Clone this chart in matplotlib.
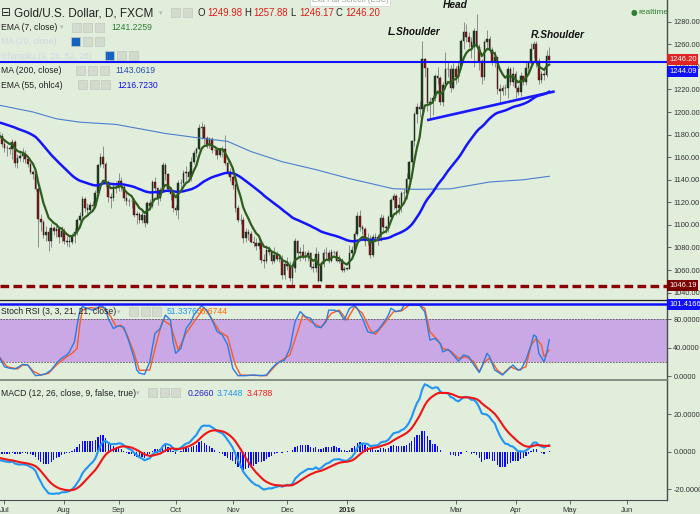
import numpy as np
import matplotlib
matplotlib.use('Agg')
import matplotlib.pyplot as plt
from matplotlib.patches import Rectangle

plt.rcParams['font.family'] = ['Liberation Sans', 'DejaVu Sans']

# ---- daily candles (bar index 0 = 1 Jul 2015), open = previous close ----
first_open = 1182
jun_c = [1179, 1172]
jun_h = [1187, 1181]
jun_l = [1176, 1169]
jul_c = [1168, 1168, 1167, 1173, 1155, 1159, 1161, 1163, 1158, 1154, 1147, 1145, 1132, 1105, 1103, 1091, 1094, 1086, 1097, 1095, 1096, 1089, 1095]
jul_h = [1175, 1171, 1170, 1176, 1175, 1163, 1166, 1168, 1166, 1160, 1156, 1149, 1147, 1134, 1110, 1104, 1099, 1097, 1102, 1099, 1099, 1098, 1099]
jul_l = [1165, 1161, 1163, 1158, 1151, 1150, 1157, 1156, 1155, 1151, 1145, 1141, 1130, 1080, 1095, 1088, 1086, 1077, 1080, 1091, 1089, 1084, 1085]
aug_c = [1086, 1085, 1085, 1090, 1094, 1104, 1108, 1123, 1115, 1113, 1118, 1117, 1128, 1153, 1160, 1154, 1138, 1125, 1124, 1134, 1133]
aug_h = [1097, 1090, 1090, 1093, 1097, 1106, 1111, 1126, 1125, 1119, 1120, 1121, 1131, 1154, 1164, 1170, 1156, 1140, 1128, 1138, 1139]
aug_l = [1083, 1081, 1080, 1083, 1084, 1091, 1101, 1105, 1111, 1110, 1111, 1114, 1115, 1126, 1151, 1150, 1134, 1120, 1115, 1121, 1128]
sep_c = [1139, 1134, 1124, 1121, 1121, 1121, 1109, 1110, 1104, 1109, 1102, 1119, 1117, 1138, 1133, 1124, 1131, 1153, 1145, 1132, 1127, 1115]
sep_h = [1146, 1142, 1136, 1129, 1124, 1124, 1124, 1112, 1111, 1111, 1109, 1121, 1123, 1140, 1142, 1134, 1134, 1156, 1155, 1146, 1134, 1129]
sep_l = [1130, 1130, 1121, 1118, 1117, 1115, 1107, 1101, 1102, 1102, 1098, 1101, 1114, 1115, 1129, 1118, 1121, 1130, 1140, 1129, 1122, 1111]
oct_c = [1113, 1137, 1137, 1146, 1147, 1142, 1156, 1164, 1167, 1186, 1187, 1177, 1171, 1176, 1166, 1166, 1162, 1166, 1167, 1155, 1147, 1142]
oct_h = [1118, 1140, 1141, 1149, 1152, 1149, 1160, 1166, 1169, 1189, 1191, 1189, 1179, 1178, 1178, 1170, 1168, 1168, 1170, 1180, 1158, 1150]
oct_l = [1109, 1105, 1131, 1134, 1140, 1139, 1139, 1154, 1160, 1166, 1176, 1172, 1168, 1168, 1164, 1162, 1158, 1160, 1160, 1153, 1144, 1139]
nov_c = [1135, 1115, 1104, 1104, 1088, 1094, 1092, 1085, 1084, 1081, 1084, 1069, 1068, 1078, 1076, 1068, 1073, 1070, 1070, 1056, 1065]
nov_h = [1143, 1137, 1118, 1110, 1107, 1097, 1096, 1095, 1090, 1088, 1090, 1087, 1074, 1082, 1081, 1078, 1080, 1077, 1073, 1073, 1068]
nov_l = [1132, 1111, 1103, 1101, 1084, 1085, 1087, 1084, 1080, 1078, 1079, 1066, 1062, 1066, 1073, 1065, 1066, 1068, 1067, 1052, 1052]
dec_c = [1064, 1053, 1062, 1086, 1075, 1076, 1072, 1072, 1075, 1063, 1062, 1074, 1050, 1065, 1075, 1075, 1068, 1076, 1076, 1068, 1069, 1060, 1061]
dec_h = [1072, 1068, 1064, 1088, 1087, 1080, 1083, 1077, 1078, 1076, 1066, 1080, 1077, 1068, 1079, 1080, 1078, 1079, 1077, 1078, 1073, 1071, 1064]
dec_l = [1060, 1050, 1046.19, 1058, 1072, 1068, 1070, 1068, 1068, 1061, 1058, 1058, 1049, 1049, 1063, 1071, 1066, 1067, 1074, 1067, 1066, 1058, 1058]
jan_c = [1061, 1075, 1078, 1092, 1108, 1098, 1096, 1086, 1086, 1073, 1089, 1088, 1089, 1106, 1098, 1097, 1107, 1122, 1126, 1115, 1118]
jan_h = [1062, 1082, 1081, 1095, 1111, 1113, 1100, 1098, 1093, 1091, 1092, 1093, 1092, 1110, 1109, 1100, 1109, 1124, 1128, 1127, 1125]
jan_l = [1060, 1061, 1071, 1075, 1090, 1095, 1092, 1081, 1082, 1071, 1072, 1085, 1082, 1086, 1094, 1093, 1094, 1104, 1114, 1109, 1110]
feb_c = [1128, 1128, 1141, 1156, 1174, 1198, 1204, 1203, 1247, 1239, 1208, 1209, 1212, 1232, 1230, 1209, 1224, 1238, 1238, 1221, 1238]
feb_h = [1130, 1132, 1146, 1157, 1175, 1200, 1208, 1210, 1263, 1248, 1239, 1213, 1215, 1234, 1240, 1232, 1227, 1253, 1245, 1242, 1243]
feb_l = [1111, 1121, 1123, 1139, 1145, 1170, 1190, 1196, 1200, 1231, 1201, 1195, 1197, 1210, 1225, 1206, 1205, 1220, 1231, 1218, 1220]
mar_c = [1231, 1241, 1263, 1271, 1266, 1262, 1258, 1272, 1258, 1245, 1231, 1262, 1265, 1255, 1245, 1249, 1220, 1219, 1221, 1221, 1238, 1227, 1234]
mar_h = [1241, 1245, 1265, 1280, 1278, 1271, 1266, 1274, 1287, 1260, 1247, 1264, 1273, 1267, 1258, 1254, 1249, 1225, 1224, 1225, 1241, 1240, 1240]
mar_l = [1225, 1227, 1238, 1256, 1262, 1257, 1248, 1240, 1256, 1237, 1225, 1228, 1257, 1252, 1242, 1240, 1216, 1208, 1215, 1215, 1212, 1224, 1223]
apr_c = [1221, 1218, 1232, 1227, 1239, 1243, 1256, 1260, 1245, 1228, 1234, 1233, 1249.98, 1246.20]
apr_h = [1236, 1224, 1235, 1232, 1245, 1245, 1261, 1263, 1263, 1248, 1236, 1239, 1255, 1257.88]
apr_l = [1212, 1215, 1214, 1224, 1224, 1234, 1241, 1248, 1240, 1225, 1226, 1228, 1231, 1246.17]

# 200-day MA (bar index, value)
ma200_x = [-2, 11, 20, 29, 43, 62, 75, 86, 95, 107, 120, 133, 150, 159, 172, 187, 200, 210]
ma200_y = [1206, 1200, 1194, 1191, 1189, 1181, 1177, 1174, 1165, 1156, 1149, 1141, 1132, 1131.5, 1132, 1138, 1140, 1143.06]

# neckline drawn on the chart
neck_x = [163.4, 211.6]
neck_y = [1193, 1218]

# Stoch RSI %K / %D
k_x = [-2, 0, 2, 4, 6, 7, 9, 11, 12, 14, 16, 18, 20, 22, 24, 25, 27, 28, 29, 30, 32, 34, 37, 39, 40, 42, 44, 46, 48, 50,
       51, 52, 54, 56, 58, 60, 62, 64, 65, 66, 68, 70, 72, 73, 75, 76, 78, 80, 82, 84, 86, 88, 90, 93, 96, 99, 101, 103,
       105, 106, 108, 110, 112, 114, 116, 118, 120, 122, 124, 125, 127, 129, 131, 133, 135, 136, 138, 140, 142, 144, 146,
       148, 149, 151, 153, 154, 158, 160, 162, 163, 164, 166, 168, 169, 171, 173, 175, 177, 179, 181, 183, 184, 186, 187,
       189, 192, 194, 196, 198, 199, 201, 203, 204, 205, 206, 208, 209, 210]
k_y = [27, 13, 11, 10, 14, 16.5, 15.5, 5, 0.5, 1.4, 3.3, 8.5, 18, 25, 29.7, 34, 48.5, 72, 91, 98, 95.6, 93, 99, 95.6, 81,
       67, 71, 68.7, 48.5, 25, 8.5, 4, 2.4, 20, 60, 67, 86, 79, 48.5, 32, 39, 67, 77, 86, 95.6, 99, 93, 79, 62.6, 58, 43.8,
       10.8, 0.5, 0.5, 1.4, 0.5, 1.4, 10.8, 17.9, 20, 22.6, 39, 76.7, 90.9, 83.8, 81.5, 69.7, 68.3, 76.7, 93, 93, 90.9, 79,
       95.6, 99.3, 95.6, 81.5, 62.6, 60.3, 65, 74.4, 86, 95.6, 90.9, 93, 100, 100, 100, 90.9, 72, 50.8, 53, 46, 34, 37.7,
       29.7, 21, 29.7, 27.3, 15.5, 5, 13, 32, 27.3, 8.5, 1.4, 8.5, 15.5, 8.5, 8.5, 22.6, 43.8, 58, 55.6, 32, 20, 32, 51.34]
d_x = [-2, 1, 5, 7, 9, 11, 14, 17, 20, 24, 26, 28, 29, 30, 33, 36, 38, 41, 43, 45, 47, 50, 52, 56, 59, 61, 64, 67, 70,
       74, 77, 79, 83, 86, 89, 91, 101, 104, 106, 110, 113, 115, 118, 122, 126, 129, 132, 135, 138, 141, 143, 146, 150,
       153, 156, 160, 162, 164, 167, 169, 172, 175, 178, 181, 183, 185, 187, 190, 192, 195, 198, 201, 203, 205, 207, 208, 210]
d_y = [27, 13, 10, 15.5, 15.5, 7, 1.4, 3.8, 15.5, 27.3, 32, 39, 72, 93, 96.5, 95.6, 97, 83.8, 69.7, 72, 60.3, 32, 8, 8.5,
       53, 79, 72, 36.7, 60.3, 81.5, 96.5, 86, 62.6, 55.6, 15.5, 1.4, 0.5, 13, 20, 29.7, 62.6, 86, 76.7, 68.7, 88.5, 93,
       79, 98, 88.5, 65, 58.9, 72, 90.9, 91.8, 100, 100, 95.6, 62.6, 50.8, 39, 35.3, 25, 27.3, 20, 6, 20, 25, 8.5, 2.4, 13,
       8.5, 13, 43.8, 53, 43.8, 27.3, 36.67]

# starting states of the EMAs at the left edge
ema55_start = 1191
ema12_start, ema26_start, signal_start = 1178, 1183, -3.0

month_pos = [0, 23, 44, 66, 88, 109, 132, 174, 197, 218, 240]
month_lab = ['Jul', 'Aug', 'Sep', 'Oct', 'Nov', 'Dec', '2016', 'Mar', 'Apr', 'May', 'Jun']

legend_vals = ['1241.2259', '1143.0619', '1216.7230']
stoch_vals = ['51.3376', '36.6744']
macd_vals = ['0.2660', '3.7448', '3.4788']

closes = np.array(jun_c + jul_c + aug_c + sep_c + oct_c + nov_c + dec_c + jan_c + feb_c + mar_c + apr_c, float)
highs = np.array(jun_h + jul_h + aug_h + sep_h + oct_h + nov_h + dec_h + jan_h + feb_h + mar_h + apr_h, float)
lows = np.array(jun_l + jul_l + aug_l + sep_l + oct_l + nov_l + dec_l + jan_l + feb_l + mar_l + apr_l, float)
opens = np.concatenate([[first_open], closes[:-1]])
highs = np.maximum(highs, np.maximum(opens, closes))
lows = np.minimum(lows, np.minimum(opens, closes))
idx = np.arange(len(closes)) - 2


def ema(vals, n, start):
    a = 2.0 / (n + 1)
    out = []
    e = start
    for v in vals:
        e = e + a * (v - e)
        out.append(e)
    return np.array(out)


ema7 = ema(closes, 7, closes[0])
ema55 = ema((opens + highs + lows + closes) / 4, 55, ema55_start)
macd = ema(closes, 12, ema12_start) - ema(closes, 26, ema26_start)
signal = ema(macd, 9, signal_start)
hist = macd - signal

BG = '#e1eedb'
W, H = 700, 514


def fx(x):
    return x / W


def fy(y):
    return 1 - y / H


fig = plt.figure(figsize=(7, 5.14), dpi=100)
fig.patch.set_facecolor(BG)
ax1 = fig.add_axes([0, fy(300), fx(667), 300 / H])
ax2 = fig.add_axes([0, fy(380), fx(667), 80 / H])
ax3 = fig.add_axes([0, fy(500), fx(667), 120 / H])

for ax in (ax1, ax2, ax3):
    ax.set_facecolor(BG)
    ax.set_xlim(-1.73, 255.4)
    ax.spines['left'].set_visible(False)
    ax.spines['right'].set_color('#4d4d4d')
    ax.spines['right'].set_linewidth(1.0)
    ax.yaxis.tick_right()
    ax.tick_params(axis='y', direction='out', length=3, width=0.6, colors='#4d4d4d',
                   labelsize=5.3, labelcolor='#333333', pad=1.5)
ax1.spines['top'].set_visible(False)
ax1.spines['bottom'].set_visible(False)
ax2.spines['top'].set_color('#222222')
ax2.spines['top'].set_linewidth(0.9)
ax2.spines['bottom'].set_visible(False)
ax3.spines['top'].set_color('#7d857a')
ax3.spines['top'].set_linewidth(1.3)
ax3.spines['bottom'].set_color('#4d4d4d')
ax1.set_xticks([])
ax2.set_xticks([])

# ---- price panel ----
ax1.set_ylim(1033.5, 1299.2)
ax1.set_yticks(np.arange(1040, 1281, 20))
ax1.set_yticklabels(['%.2f' % v for v in np.arange(1040, 1281, 20)])

ax1.vlines(idx, lows, highs, color='#8c8c8c', lw=0.7, zorder=2)
up = closes >= opens
body = np.maximum(np.abs(closes - opens), 0.4)
ax1.bar(idx, body, bottom=np.minimum(opens, closes), width=0.62,
        color=np.where(up, '#1e421e', '#8b1414'), edgecolor='#1a1a1a', lw=0.3, zorder=3)

ax1.plot(ma200_x, ma200_y, color='#4a7fd0', lw=0.8, zorder=4)
ax1.plot(idx, ema55, color='#1414ff', lw=1.8, zorder=4)
ax1.plot(idx, ema7, color='#2e5e1e', lw=1.6, zorder=5)
ax1.plot(neck_x, neck_y, color='#1a1aff', lw=1.9, zorder=5)
ax1.axhline(1244.09, color='#1010ff', lw=1.5, zorder=6)
ax1.axhline(1046.19, color='#8b0000', lw=2.4, dashes=(2.6, 1.3), zorder=6)

box = dict(boxstyle='square,pad=0.25', ec='none')
ax1.annotate('1246.20', xy=(1, 1246.20), xycoords=('axes fraction', 'data'), xytext=(1.5, 0),
             textcoords='offset points', va='center', ha='left', fontsize=5.5, color='white',
             bbox=dict(box, fc='#e02424'), annotation_clip=False, zorder=10)
ax1.annotate('1244.09', xy=(1, 1244.09), xycoords=('axes fraction', 'data'), xytext=(1.5, -6.5),
             textcoords='offset points', va='center', ha='left', fontsize=5.5, color='white',
             bbox=dict(box, fc='#1010ff'), annotation_clip=False, zorder=10)
ax1.annotate('1046.19', xy=(1, 1046.19), xycoords=('axes fraction', 'data'), xytext=(1.5, 0),
             textcoords='offset points', va='center', ha='left', fontsize=5.5, color='white',
             bbox=dict(box, fc='#7a0000'), annotation_clip=False, zorder=10)

# ---- stoch RSI panel ----
ax2.set_ylim(-5.6, 107.3)
ax2.set_yticks([0, 40, 80])
ax2.set_yticklabels(['0.0000', '40.0000', '80.0000'])
ax2.axhspan(20, 80, color='#c9a8e5', lw=0, zorder=1)
ax2.axhline(80, color='#555555', lw=0.6, dashes=(2, 1.5), zorder=2)
ax2.axhline(20, color='#555555', lw=0.6, dashes=(2, 1.5), zorder=2)
ax2.plot(d_x, d_y, color='#ff5a1f', lw=1.0, zorder=3)
ax2.plot(k_x, k_y, color='#2a7de1', lw=1.0, zorder=4)
ax2.axhline(101.4166, color='#1010ff', lw=1.8, zorder=5)
ax2.annotate('101.4166', xy=(1, 101.4166), xycoords=('axes fraction', 'data'), xytext=(1.5, 0),
             textcoords='offset points', va='center', ha='left', fontsize=5.5, color='white',
             bbox=dict(box, fc='#1010ff'), annotation_clip=False, zorder=10)

# ---- MACD panel ----
ax3.set_ylim(-25.7, 38.2)
ax3.set_yticks([-20, 0, 20])
ax3.set_yticklabels(['-20.0000', '0.0000', '20.0000'])
ax3.bar(idx, hist, width=0.5, color='#0a0aff', zorder=2)
ax3.plot(idx, macd, color='#2196f3', lw=1.5, zorder=3)
ax3.plot(idx, signal, color='#f01414', lw=1.5, zorder=4)
ax3.set_xticks(month_pos)
ax3.set_xticklabels(month_lab)
ax3.tick_params(axis='x', direction='out', length=3, width=0.6, colors='#4d4d4d',
                labelsize=5.5, labelcolor='#333333', pad=2)
for t in ax3.get_xticklabels():
    if t.get_text() == '2016':
        t.set_fontweight('bold')


# ---- header / legends ----
def icon(x, y, color='#d3dbcf', w=9, h=9):
    fig.add_artist(Rectangle((fx(x), fy(y + h)), w / W, h / H, transform=fig.transFigure,
                             fc=color, ec='#c2cabe', lw=0.5))


def label(x, y, s, color='#222222', size=6.2, **kw):
    fig.text(fx(x), fy(y), s, color=color, fontsize=size, va='center', ha='left', **kw)


fig.text(fx(350), fy(0.8), 'Exit Full Screen (ESC)', fontsize=5.5, color='#9a9a9a', ha='center', va='center',
         bbox=dict(boxstyle='square,pad=0.2', fc='white', ec='#cfcfcf', lw=0.5))
label(1, 13, '⊟', size=8.5, family=['DejaVu Sans'])
label(14, 13, 'Gold/U.S. Dollar, D, FXCM', size=8.5)
label(159, 13, '▾', color='#b5b5b5', size=5, family=['DejaVu Sans'])
icon(171, 8)
icon(183, 8)
x0 = 198
for key, val in [('O', '1249.98'), ('H', '1257.88'), ('L', '1246.17'), ('C', '1246.20')]:
    label(x0, 13, key, size=6.9)
    label(x0 + 9, 13, val, color='#e01b1b', size=6.9)
    x0 += 46

label(1, 27, 'EMA (7, close)', size=6.2)
label(60, 27, '▾', color='#b5b5b5', size=5, family=['DejaVu Sans'])
for xi in (72, 83, 95):
    icon(xi, 23)
label(111, 27, legend_vals[0], color='#2e7d32')

label(1, 42, 'MA (20, close)', color='#d3d6e6', size=6.2)
icon(71, 37, color='#1565c0')
icon(83, 37)
icon(95, 37)
label(1, 56, 'Ichimoku (9, 26, 52, 26)', color='#d3d6e6', size=6.2)
icon(105, 51, color='#1565c0')
icon(117, 51)
icon(129, 51)

label(1, 70.5, 'MA (200, close)', size=6.2)
for xi in (76, 88, 100):
    icon(xi, 66)
label(115, 70.5, legend_vals[1], color='#2450b0')
label(1, 85, 'EMA (55, ohlc4)', size=6.2)
for xi in (78, 90, 101):
    icon(xi, 80)
label(117, 85, legend_vals[2], color='#1010ee')

fig.text(fx(634), fy(12.5), '●', color='#2e7d32', fontsize=5.5, ha='center', va='center', family=['DejaVu Sans'])
label(638, 12.5, 'realtime', color='#2e7d32', size=6)

for s, x, y in [('Head', 455, 5), ('L.Shoulder', 414, 32), ('R.Shoulder', 558, 35)]:
    fig.text(fx(x), fy(y), s, fontsize=7.3, fontweight='bold', style='italic', ha='center', va='center',
             color='#111111')

label(1, 312, 'Stoch RSI (3, 3, 21, 21, close)', size=6.2)
label(117, 312, '▾', color='#b5b5b5', size=5, family=['DejaVu Sans'])
for xi in (129, 141, 152):
    icon(xi, 307)
label(167, 311.5, stoch_vals[0], color='#2196f3')
label(197, 311.5, stoch_vals[1], color='#ff6d00')

label(1, 393, 'MACD (12, 26, close, 9, false, true)', size=6.2)
label(136, 393, '▾', color='#b5b5b5', size=5, family=['DejaVu Sans'])
for xi in (148, 160, 171):
    icon(xi, 388)
label(188, 393, macd_vals[0], color='#2323d8')
label(217, 393, macd_vals[1], color='#2196f3')
label(247, 393, macd_vals[2], color='#ff1a1a')

fig.savefig('out.png', dpi=100, facecolor=BG)
